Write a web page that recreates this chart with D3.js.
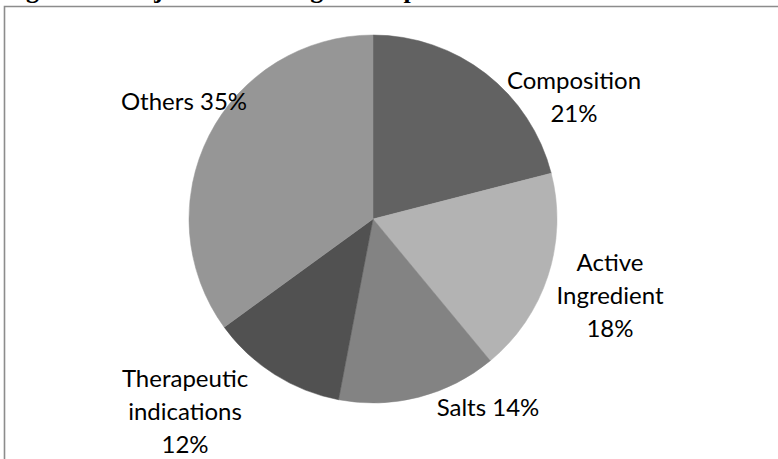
<!DOCTYPE html>
<html>
<head>
<meta charset="utf-8">
<script src="https://cdn.jsdelivr.net/npm/d3@7"></script>
<style>
    html, body { margin: 0; padding: 0; background: #fff; overflow: hidden; }
    svg { display: block; }
</style>
</head>
<body>
<div id="chart"></div>
<script>
'use strict';

// data
const categories = ["Composition", "Active Ingredient", "Salts", "Therapeutic indications", "Others"];
const shares = [21, 18, 14, 12, 35];
const sliceColors = ["#626262", "#b3b3b3", "#838383", "#515151", "#969696"];
const wrapLabel = [true, true, false, true, false];

const titleText = "Figure 4: Subject matter of granted patents 2008-09";

const width = 778, height = 459;
const cx = 373, cy = 219, radius = 184;

// label block centres, relative to the pie centre
const labelOffsets = [[201, -122], [237, 77], [115, 189], [-188, 193], [-189, -117]];
const lineHeight = 33;

const svg = d3.select('#chart').append('svg')
    .attr('width', width)
    .attr('height', height);

// clipped caption from the page above the chart
svg.append('text')
    .text(titleText)
    .attr('x', 3)
    .attr('y', -2.5)
    .style('font-family', '"Liberation Serif", "Times New Roman", serif')
    .style('font-weight', 'bold')
    .style('font-size', '26px')
    .style('fill', '#000');

// frame: top and left edges only
svg.append('path')
    .attr('d', 'M4.5,' + height + ' V6.5 H' + width)
    .style('fill', 'none')
    .style('stroke', '#8c8c8c')
    .style('stroke-width', 1.6);

let rows = categories.map(function (c, i) {
    return { name: c, value: shares[i], color: sliceColors[i], wrap: wrapLabel[i], idx: i };
});

let pie = d3.pie()
    .sort(null)
    .value(function (d) { return d.value; });

let arc = d3.arc()
    .innerRadius(0)
    .outerRadius(radius);

let g = svg.append('g')
    .attr('transform', 'translate(' + cx + ',' + cy + ')');

g.selectAll('.slice')
    .data(pie(rows))
    .enter().append('path')
    .attr('class', 'slice')
    .attr('d', arc)
    .style('fill', function (d) { return d.data.color; })
    .style('stroke', function (d) { return d.data.color; })
    .style('stroke-width', 0.5);

let labels = g.selectAll('.slice-label')
    .data(pie(rows))
    .enter().append('text')
    .attr('class', 'slice-label')
    .style('font-family', 'Lato, "Open Sans", sans-serif')
    .style('font-size', '24px')
    .style('fill', '#000')
    .style('text-anchor', 'middle');

labels.each(function (d) {
    let pct = d.data.value + '%';
    let lines = d.data.wrap ? d.data.name.split(' ').concat([pct]) : [d.data.name + ' ' + pct];
    let off = labelOffsets[d.data.idx];
    let top = off[1] - (lines.length - 1) * lineHeight / 2;
    let t = d3.select(this);
    lines.forEach(function (line, k) {
        t.append('tspan')
            .attr('x', off[0])
            .attr('y', top + k * lineHeight)
            .attr('dy', '0.35em')
            .text(line);
    });
});
</script>
</body>
</html>
